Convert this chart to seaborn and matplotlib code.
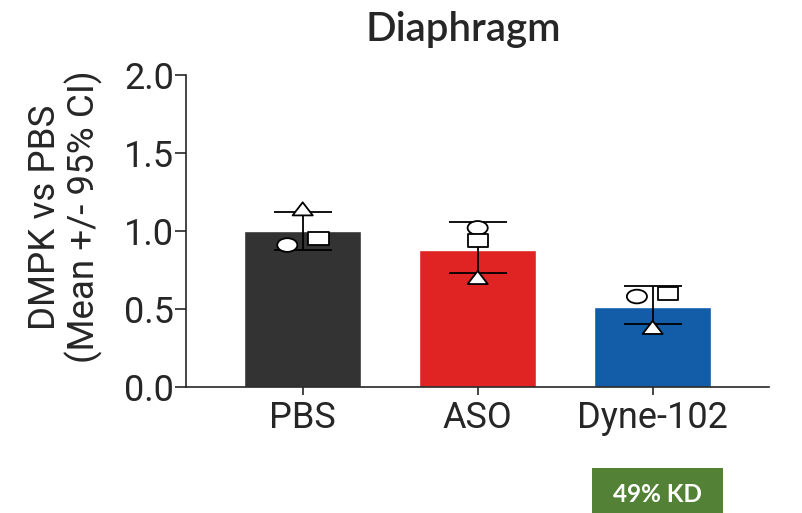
import matplotlib
matplotlib.use('Agg')
import matplotlib.pyplot as plt
import numpy as np
import pandas as pd
import seaborn as sns
from matplotlib.path import Path
from matplotlib.patches import Rectangle

# Data
groups = ['PBS', 'ASO', 'Dyne-102']
means = [1.00, 0.88, 0.515]
ci_low = [0.88, 0.73, 0.405]
ci_high = [1.125, 1.055, 0.65]
circle_vals = [0.91, 1.02, 0.58]
square_vals = [0.95, 0.94, 0.60]
triangle_vals = [1.14, 0.70, 0.38]
bar_colors = ['#333333', '#e02424', '#125ca8']

# horizontal spread of the individual points (GraphPad style)
circle_shift = [-0.088, 0.0, -0.09]
square_shift = [0.09, 0.0, 0.088]
triangle_shift = [0.0, 0.0, 0.0]

sns.set_style('ticks')
plt.rcParams['font.family'] = ['Roboto', 'DejaVu Sans']

df = pd.DataFrame({'group': groups, 'mean': means})

fig = plt.figure(figsize=(8.03, 5.13), dpi=100)
ax = fig.add_axes([0.2316, 0.2456, 0.7261, 0.6082])

sns.barplot(data=df, x='group', y='mean', hue='group', palette=bar_colors,
            width=0.667, errorbar=None, legend=False, saturation=1, ax=ax)

# 95% CI error bars
xpos = np.arange(len(groups))
yerr = [np.array(means) - np.array(ci_low), np.array(ci_high) - np.array(means)]
ax.errorbar(xpos, means, yerr=yerr, fmt='none', ecolor='black',
            elinewidth=1.3, capsize=21, capthick=1.3, zorder=3)

# squashed markers like the original
circ = Path.unit_circle()
circ = Path(circ.vertices * [1, 0.68], circ.codes)
sq = Path([(-1, -0.66), (1, -0.66), (1, 0.66), (-1, 0.66), (-1, -0.66)],
          [Path.MOVETO, Path.LINETO, Path.LINETO, Path.LINETO, Path.CLOSEPOLY])
tri = Path([(-1, -0.62), (1, -0.62), (0, 0.68), (-1, -0.62)],
           [Path.MOVETO, Path.LINETO, Path.LINETO, Path.CLOSEPOLY])

pts = pd.DataFrame({
    'x': np.concatenate([xpos + circle_shift, xpos + square_shift, xpos + triangle_shift]),
    'y': circle_vals + square_vals + triangle_vals,
    'kind': ['circle'] * 3 + ['square'] * 3 + ['triangle'] * 3,
})
sns.scatterplot(data=pts, x='x', y='y', style='kind',
                markers={'circle': circ, 'square': sq, 'triangle': tri},
                s=210, color='white', edgecolor='black', linewidth=1.3,
                legend=False, zorder=4, ax=ax)

ax.set_xlim(-0.667, 2.665)
ax.set_ylim(0, 2.0)
ax.set_yticks([0, 0.5, 1.0, 1.5, 2.0])
ax.set_yticklabels(['0.0', '0.5', '1.0', '1.5', '2.0'])
ax.set_xticks(xpos)
ax.set_xticklabels(groups)
ax.set_xlabel('')
ax.set_ylabel('DMPK vs PBS\n(Mean +/- 95% CI)', fontsize=26.5, linespacing=1.05)
ax.yaxis.set_label_coords(-0.142, 0.545)
ax.tick_params(axis='y', labelsize=26, length=8, width=1.2, pad=0.5)
ax.tick_params(axis='x', labelsize=26, length=6, width=1.2, pad=3)
sns.despine(ax=ax)
for s in ['left', 'bottom']:
    ax.spines[s].set_linewidth(1.2)

fig.text(0.5766, 0.92, 'Diaphragm', fontsize=29, family=['Lato', 'DejaVu Sans'],
         fontweight='semibold', ha='center', va='baseline')

# green knockdown badge
fig.patches.append(Rectangle((0.737, 0.0), 0.163, 0.0877, transform=fig.transFigure,
                             facecolor='#538135', edgecolor='none'))
fig.text(0.8185, 0.0215, '49% KD', fontsize=17.5, family=['Lato', 'DejaVu Sans'],
         fontweight='bold', color='white', ha='center', va='baseline')

fig.savefig('out.png', dpi=100)
